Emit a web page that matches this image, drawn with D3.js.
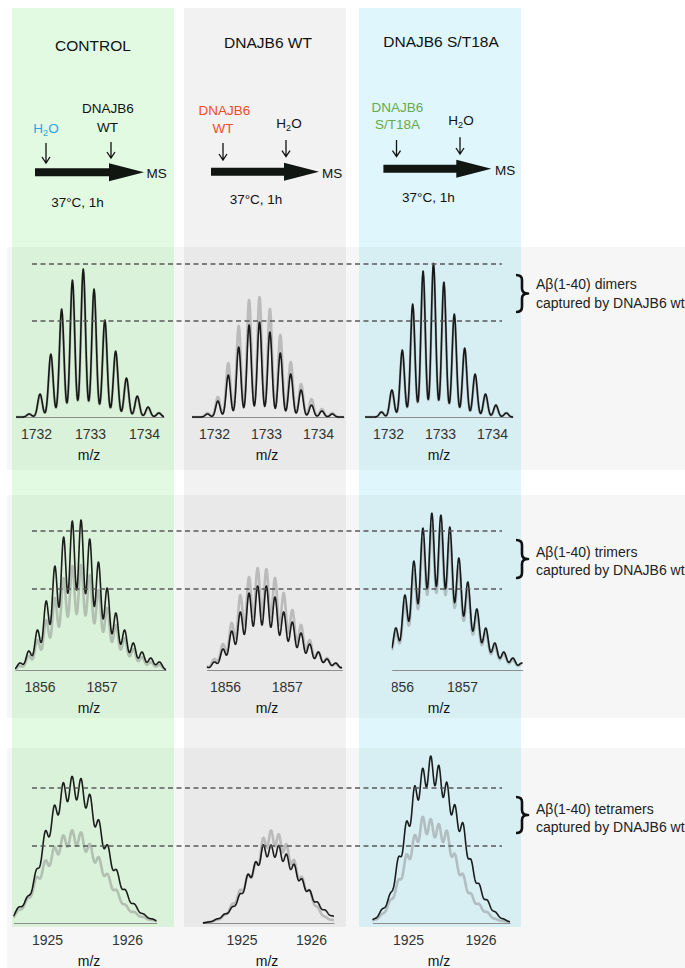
<!DOCTYPE html>
<html><head><meta charset="utf-8">
<script src="https://cdn.jsdelivr.net/npm/d3@7"></script>
<style>
body{margin:0;background:#fff}
svg{display:block}
text{font-family:"Liberation Sans",Arial,Helvetica,sans-serif}
</style>
</head><body>
<svg id="chart" width="685" height="968"></svg>
<script>
// ---------------- DATA ----------------
const columnTitles = ["CONTROL", "DNAJB6 WT", "DNAJB6 S/T18A"];
const rowLabels = [
  ["Aβ(1-40) dimers", "captured by DNAJB6 wt"],
  ["Aβ(1-40) trimers", "captured by DNAJB6 wt"],
  ["Aβ(1-40) tetramers", "captured by DNAJB6 wt"]
];

// isotopic peak centroids (m/z)
const dimerPeaks = [1731.875, 1732.075, 1732.275, 1732.475, 1732.675, 1732.875, 1733.075,
  1733.275, 1733.475, 1733.675, 1733.875, 1734.075, 1734.275];
const trimerPeaks = [1855.686, 1855.827, 1855.967, 1856.108, 1856.248, 1856.389, 1856.529,
  1856.670, 1856.810, 1856.951, 1857.091, 1857.232, 1857.372, 1857.513, 1857.653, 1857.794, 1857.934];
const tetramerPeaks = [1924.536, 1924.647, 1924.758, 1924.869, 1924.980, 1925.092, 1925.203,
  1925.314, 1925.425, 1925.536, 1925.647, 1925.758, 1925.869, 1925.980, 1926.092, 1926.203,
  1926.314, 1926.425];

// relative intensities (black = sample, grey = reference trace)
const dimerControlBlack = [3, 23, 63, 108, 137, 148, 128, 97, 66, 39, 21, 10, 4];
const dimerControlGrey  = [3, 22, 60, 104, 133, 144, 124, 94, 64, 38, 20, 9, 4];
const dimerWtBlack      = [3, 16, 42, 70, 92, 95, 85, 64, 43, 27, 12, 6, 3];
const dimerWtGrey       = [4, 20, 54, 91, 117, 120, 108, 82, 55, 33, 18, 8, 4];
const dimerStBlack      = [5, 27, 67, 113, 146, 154, 135, 103, 69, 43, 23, 12, 4];
const dimerStGrey       = [5, 26, 64, 109, 141, 149, 131, 100, 67, 41, 22, 11, 4];

const trimerControlBlack = [7, 19, 40, 69, 104, 133, 149, 150, 131, 108, 82, 57, 40, 27, 18, 12, 8];
const trimerControlGrey  = [4, 14, 30, 50, 72, 92, 104, 105, 95, 80, 62, 45, 32, 21, 13, 8, 5];
const trimerWtBlack      = [3, 8, 21, 39, 58, 77, 84, 84, 73, 58, 48, 37, 26, 18, 11, 7, 3];
const trimerWtGrey       = [4, 11, 26, 47, 75, 93, 102, 101, 92, 77, 60, 45, 30, 18, 12, 6, 3];
const trimerStBlack      = [20, 36, 42, 75, 109, 142, 157, 155, 143, 112, 88, 61, 42, 27, 18, 12, 7];
const trimerStGrey       = [18, 33, 38, 68, 100, 131, 145, 143, 132, 103, 80, 56, 38, 24, 16, 10, 6];

const tetramerControlBlack = [4, 16, 26, 53, 93, 118, 141, 147, 145, 129, 103, 78, 53, 33, 19, 9, 4, 1];
const tetramerControlGrey  = [3, 13, 24, 46, 63, 76, 88, 93, 91, 79, 66, 49, 33, 18, 11, 6, 3, 1];
const tetramerWtBlack      = [1, 4, 9, 16, 29, 49, 61, 79, 78, 78, 69, 59, 44, 33, 21, 13, 7, 3];
const tetramerWtGrey       = [1, 3, 8, 19, 33, 49, 59, 86, 93, 89, 79, 63, 46, 33, 16, 6, 3, 1];
const tetramerStBlack      = [4, 14, 29, 66, 102, 138, 155, 168, 158, 141, 118, 101, 63, 39, 23, 11, 4, 1];
const tetramerStGrey       = [3, 9, 23, 43, 69, 88, 107, 104, 99, 93, 69, 49, 29, 19, 11, 4, 2, 1];

const dimerTicks = [1732, 1733, 1734];
const trimerTicks = [1856, 1857];
const tetramerTicks = [1925, 1926];

// reference intensity levels of dashed guide lines
const dimerLevels = [153, 96];
const trimerLevels = [139, 81];
const tetramerLevels = [135, 77];

// ---------------- LAYOUT ----------------
const rowsData = [
  {peaks: dimerPeaks, ticks: dimerTicks, levels: dimerLevels,
   traces: [[dimerControlBlack, dimerControlGrey], [dimerWtBlack, dimerWtGrey], [dimerStBlack, dimerStGrey]]},
  {peaks: trimerPeaks, ticks: trimerTicks, levels: trimerLevels,
   traces: [[trimerControlBlack, trimerControlGrey], [trimerWtBlack, trimerWtGrey], [trimerStBlack, trimerStGrey]]},
  {peaks: tetramerPeaks, ticks: tetramerTicks, levels: tetramerLevels,
   traces: [[tetramerControlBlack, tetramerControlGrey], [tetramerWtBlack, tetramerWtGrey], [tetramerStBlack, tetramerStGrey]]}
];

const rowLayout = [
  {base: 417, sigma: 0.042, band: [247, 470], brace: [275, 312], textY: [289, 307.5],
   panels: [{x0: 16, x1: 164, d: [1731.630, 1734.370]},
            {x0: 192, x1: 344, d: [1731.577, 1734.500]},
            {x0: 365, x1: 513, d: [1731.558, 1734.404]}]},
  {base: 670, sigma: 0.0436, band: [495, 718], brace: [540, 578], textY: [557, 575],
   panels: [{x0: 15, x1: 166, d: [1855.605, 1858.040]},
            {x0: 206.7, x1: 342.3, d: [1855.703, 1857.901]},
            {x0: 391.7, x1: 522.7, d: [1855.902, 1857.948]}]},
  {base: 923, sigma: 0.0444, band: [748, 968], brace: [797, 833], textY: [814, 831.5],
   panels: [{x0: 13.3, x1: 156.7, d: [1924.579, 1926.371]},
            {x0: 202.7, x1: 334, d: [1924.442, 1926.331]},
            {x0: 372.3, x1: 510, d: [1924.508, 1926.407]}]}
];

const colRects = [
  {x: 12, w: 162, fill: "#e2fae2"},
  {x: 184, w: 162, fill: "#f2f2f2"},
  {x: 359, w: 162, fill: "#dff7fc"}
];
const mzLabelX = [89, 267, 439];
const dashX = [32, 502];

const svg = d3.select("#chart");

// column backgrounds
svg.selectAll("rect.col").data(colRects).join("rect")
  .attr("class", "col").attr("x", d => d.x).attr("y", 8)
  .attr("width", d => d.w).attr("height", 919).attr("fill", d => d.fill);

// row bands
svg.selectAll("rect.band").data(rowLayout).join("rect")
  .attr("class", "band").attr("x", 7).attr("width", 678)
  .attr("y", d => d.band[0]).attr("height", d => d.band[1] - d.band[0])
  .attr("fill", "#000").attr("opacity", 0.035);

// ---------------- HEADER ----------------
const hdr = svg.append("g");
const FS = 13.5;
function label(x, y, txt, color, size) {
  return hdr.append("text").attr("x", x).attr("y", y).attr("text-anchor", "middle")
    .attr("font-size", size || FS).attr("fill", color || "#111").text(txt);
}
function h2o(x, y, color) {
  const t = hdr.append("text").attr("x", x).attr("y", y).attr("text-anchor", "middle")
    .attr("font-size", FS).attr("fill", color);
  t.append("tspan").text("H");
  t.append("tspan").attr("font-size", 9).attr("dy", 3).text("2");
  t.append("tspan").attr("dy", -3).text("O");
}
function down(x, y0, y1) {
  hdr.append("path").attr("d", `M${x},${y0}V${y1}M${x - 4},${y1 - 6}L${x},${y1}L${x + 4},${y1 - 6}`)
    .attr("fill", "none").attr("stroke", "#111").attr("stroke-width", 1.3);
}
function bigArrow(x0, xh, xt, yc) {
  const b = 4, h = 9;
  hdr.append("path").attr("d",
    `M${x0},${yc - b}H${xh}V${yc - h}L${xt},${yc}L${xh},${yc + h}V${yc + b}H${x0}Z`)
    .attr("fill", "#050a05").attr("opacity", 0.95);
}
// titles
label(93, 50.5, columnTitles[0], "#111", 15.5);
label(268, 48.3, columnTitles[1], "#111", 15.5);
label(441, 46.7, columnTitles[2], "#111", 15.5);
// control
h2o(46, 133, "#27a7df");
label(108, 113, "DNAJB6");
label(107.5, 131.7, "WT");
down(46, 143, 163);
down(111, 142, 158);
bigArrow(35, 109, 144, 172.2);
hdr.append("text").attr("x", 146.5).attr("y", 178).attr("font-size", FS).attr("fill", "#111").text("MS");
label(77.5, 206.5, "37°C, 1h");
// wt
label(224.5, 115, "DNAJB6", "#f04e23");
label(223, 132.7, "WT", "#f04e23");
down(223, 143, 160);
h2o(289, 128, "#111");
down(286, 140, 156.7);
bigArrow(211, 284, 319, 171.8);
hdr.append("text").attr("x", 322).attr("y", 177.7).attr("font-size", FS).attr("fill", "#111").text("MS");
label(256, 204, "37°C, 1h");
// s/t18a
label(397.4, 112.3, "DNAJB6", "#67a94c");
label(397.4, 129.3, "S/T18A", "#67a94c");
down(396.5, 140, 156.7);
h2o(461, 125, "#111");
down(460, 137.3, 154);
bigArrow(383.4, 456.3, 491.3, 168.8);
hdr.append("text").attr("x", 495).attr("y", 175).attr("font-size", FS).attr("fill", "#111").text("MS");
label(428.4, 201.7, "37°C, 1h");

// ---------------- SPECTRA ----------------
const defs = svg.append("defs");

rowsData.forEach((row, r) => {
  const L = rowLayout[r];
  const sig = L.sigma;
  const sp = row.peaks[1] - row.peaks[0];
  let norm = 0;
  for (let k = -6; k <= 6; k++) norm += Math.exp(-(k * sp) * (k * sp) / (2 * sig * sig));
  const y = d3.scaleLinear().domain([0, 170]).range([L.base, L.base - 170]);

  L.panels.forEach((P, c) => {
    const x = d3.scaleLinear().domain(P.d).range([P.x0, P.x1]);
    const g = svg.append("g");
    const cid = `clip${r}${c}`;
    defs.append("clipPath").attr("id", cid).append("rect")
      .attr("x", P.x0).attr("y", L.base - 200).attr("width", P.x1 - P.x0).attr("height", 202);
    const aid = `clipAx${r}${c}`;
    defs.append("clipPath").attr("id", aid).append("rect")
      .attr("x", P.x0).attr("y", -5).attr("width", P.x1 - P.x0 + 1).attr("height", 40);

    // axis
    const axis = d3.axisBottom(x).tickValues(row.ticks).tickSize(0).tickSizeOuter(0)
      .tickPadding(12).tickFormat(d3.format("d"));
    const ga = g.append("g").attr("transform", `translate(0,${L.base})`)
      .attr("clip-path", `url(#${aid})`).call(axis)
      .attr("font-size", 14).attr("font-family", '"Liberation Sans",Arial,sans-serif');
    ga.select(".domain").attr("stroke", "#8e8e8e").attr("stroke-width", 1);
    ga.selectAll(".tick text").attr("fill", "#333");

    const n = Math.round((P.x1 - P.x0) * 3);
    const samples = d3.range(n + 1).map(i => P.d[0] + (P.d[1] - P.d[0]) * i / n);
    const prof = hts => samples.map(m => {
      let s = 0;
      for (let i = 0; i < row.peaks.length; i++) {
        const dd = m - row.peaks[i];
        s += hts[i] * Math.exp(-dd * dd / (2 * sig * sig));
      }
      return [m, s / norm];
    });
    const line = d3.line().x(d => x(d[0])).y(d => y(d[1]));
    const [blk, gry] = row.traces[c];
    const gt = g.append("g").attr("clip-path", `url(#${cid})`);
    gt.append("path").attr("d", line(prof(gry))).attr("fill", "none")
      .attr("stroke", "#7d7d7d").attr("stroke-opacity", 0.42).attr("stroke-width", 2.6)
      .attr("stroke-linejoin", "round");
    gt.append("path").attr("d", line(prof(blk))).attr("fill", "none")
      .attr("stroke", "#000").attr("stroke-opacity", 0.88).attr("stroke-width", 1.6)
      .attr("stroke-linejoin", "round");

    // m/z label
    g.append("text").attr("x", mzLabelX[c]).attr("y", L.base + 43).attr("text-anchor", "middle")
      .attr("font-size", 14).attr("fill", "#111").text("m/z");
  });

  // dashed guide lines
  svg.append("g").selectAll("line").data(row.levels).join("line")
    .attr("x1", dashX[0]).attr("x2", dashX[1])
    .attr("y1", d => y(d)).attr("y2", d => y(d))
    .attr("stroke", "#5a5a5a").attr("stroke-width", 1.3).attr("stroke-dasharray", "5,3.5");

  // brace + label
  const bx = 516, bw = 12, y0 = L.brace[0], y1 = L.brace[1], ym = (y0 + y1) / 2, xm = bx + bw / 2, rr = 5;
  svg.append("path")
    .attr("d", `M${bx},${y0}Q${xm},${y0} ${xm},${y0 + rr}L${xm},${ym - rr}Q${xm},${ym} ${bx + bw},${ym}` +
               `Q${xm},${ym} ${xm},${ym + rr}L${xm},${y1 - rr}Q${xm},${y1} ${bx},${y1}`)
    .attr("fill", "none").attr("stroke", "#111").attr("stroke-width", 2.6).attr("stroke-linejoin", "round");
  rowLabels[r].forEach((t, i) => {
    svg.append("text").attr("x", 536).attr("y", L.textY[i]).attr("font-size", 14)
      .attr("fill", "#222").text(t);
  });
});
</script>
</body></html>
